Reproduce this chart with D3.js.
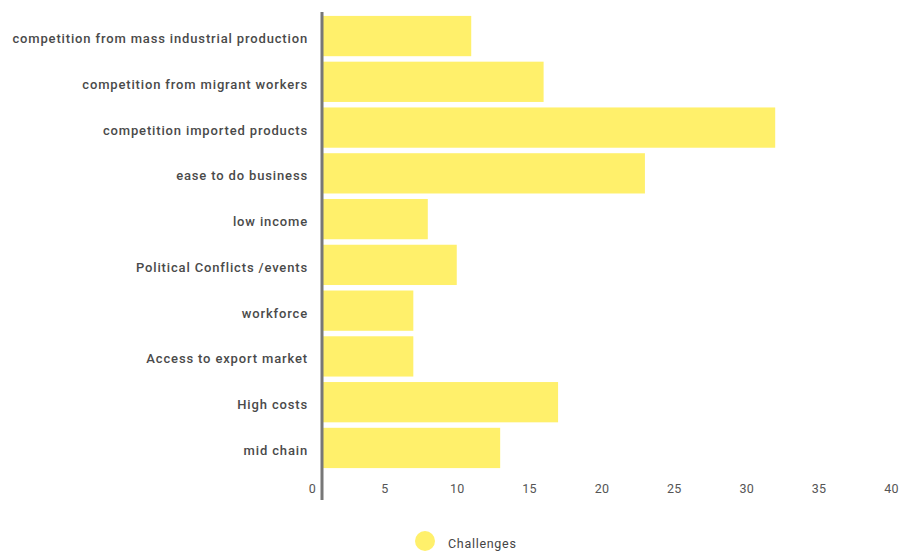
<!DOCTYPE html>
<html>
<head>
<meta charset="utf-8">
<script src="https://cdn.jsdelivr.net/npm/d3@7"></script>
<style>
  html, body { margin: 0; padding: 0; background: #fff; }
  svg { display: block; font-family: Roboto, "Open Sans", sans-serif; }
</style>
</head>
<body>
<svg id="chart" width="902" height="551"></svg>
<script>
const categories = [
  "competition from mass industrial production",
  "competition from migrant workers",
  "competition imported products",
  "ease to do business",
  "low income",
  "Political Conflicts /events",
  "workforce",
  "Access to export market",
  "High costs",
  "mid chain"
];
const values = [11, 16, 32, 23, 8, 10, 7, 7, 17, 13];
const xTicks = [0, 5, 10, 15, 20, 25, 30, 35, 40];
const seriesName = "Challenges";

const barColor = "#fff06b";
const svg = d3.select("#chart");

const x = d3.scaleLinear().domain([0, 40]).range([312, 891]);
const y = d3.scaleBand().domain(categories).range([15, 469]).paddingInner(0.12).paddingOuter(0.02);

const axisX = 322;

// bars, starting at the vertical axis line
svg.append("g").selectAll("rect")
  .data(values)
  .join("rect")
  .attr("x", axisX + 1)
  .attr("y", (d, i) => y(categories[i]))
  .attr("width", d => x(d) - axisX - 1)
  .attr("height", y.bandwidth())
  .attr("fill", barColor);

// category labels
svg.append("g").selectAll("text")
  .data(categories)
  .join("text")
  .attr("x", 308)
  .attr("y", d => y(d) + y.bandwidth() / 2 + 2.5)
  .attr("dy", "0.35em")
  .attr("text-anchor", "end")
  .attr("font-size", 13)
  .attr("font-weight", 500)
  .attr("letter-spacing", "0.85px")
  .attr("fill", "#4a4a4a")
  .text(d => d);

// vertical axis line
svg.append("line")
  .attr("x1", axisX).attr("x2", axisX)
  .attr("y1", 12).attr("y2", 500)
  .attr("stroke", "#777")
  .attr("stroke-width", 3);

// value axis tick labels
const xAxis = d3.axisBottom(x).tickValues(xTicks).tickSize(0).tickPadding(0);
const gx = svg.append("g").attr("transform", "translate(0,484)").call(xAxis);
gx.select(".domain").remove();
gx.selectAll("text")
  .attr("font-size", 12.5)
  .attr("font-family", "Roboto, sans-serif")
  .attr("letter-spacing", "0.3px")
  .attr("fill", "#555");

// legend
const legend = svg.append("g").attr("transform", "translate(425,541)");
legend.append("circle").attr("r", 10).attr("fill", barColor);
legend.append("text")
  .attr("x", 23).attr("y", 3).attr("dy", "0.35em")
  .attr("font-size", 12.5)
  .attr("letter-spacing", "0.7px")
  .attr("fill", "#444")
  .text(seriesName);
</script>
</body>
</html>
